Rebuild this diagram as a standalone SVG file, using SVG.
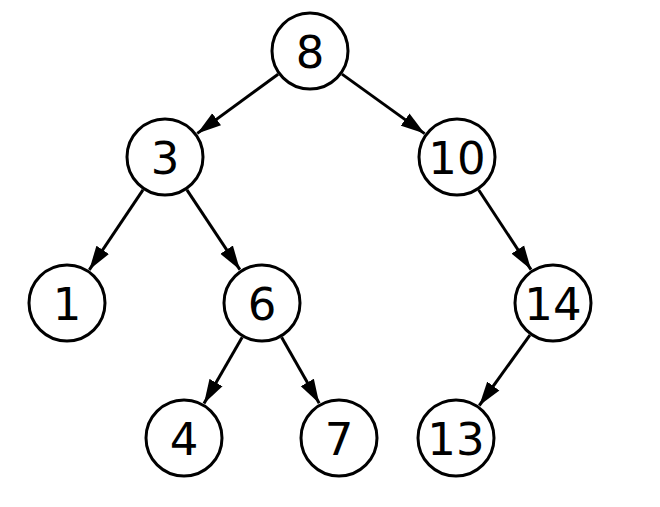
<svg xmlns="http://www.w3.org/2000/svg" width="660" height="507" viewBox="0 0 660 507">
<defs>
<marker id="arr" markerUnits="userSpaceOnUse" markerWidth="24" markerHeight="16" refX="24" refY="8" orient="auto">
<path d="M0,0.5 L24,8 L0,15.5 z" fill="#000"/>
</marker>
<style>
.n circle{fill:#fff;stroke:#000;stroke-width:3}
.n text{font-family:"DejaVu Sans",sans-serif;font-size:45px;text-anchor:middle;fill:#000}
#edges line{stroke:#000;stroke-width:3;marker-end:url(#arr)}
</style>
</defs>
<rect width="660" height="507" fill="#fff"/>
<g id="edges">
<line x1="278.1" y1="74.3" x2="197.3" y2="133.4"/>
<line x1="342.0" y1="74.1" x2="424.6" y2="133.6"/>
<line x1="143.0" y1="189.8" x2="89.3" y2="269.8"/>
<line x1="186.9" y1="189.9" x2="239.9" y2="269.7"/>
<line x1="478.7" y1="190.0" x2="531.0" y2="269.6"/>
<line x1="242.2" y1="337.2" x2="204.0" y2="403.4"/>
<line x1="281.6" y1="337.3" x2="319.2" y2="403.3"/>
<line x1="529.9" y1="335.1" x2="479.3" y2="405.5"/>
</g>
<g id="n8" class="n"><circle cx="310" cy="51" r="38"/><text x="310" y="67.5">8</text></g>
<g id="n3" class="n"><circle cx="165" cy="157" r="38"/><text x="165" y="173.5">3</text></g>
<g id="n10" class="n"><circle cx="457" cy="157" r="38"/><text x="457" y="173.5">10</text></g>
<g id="n1" class="n"><circle cx="67" cy="303" r="38"/><text x="67" y="319.5">1</text></g>
<g id="n6" class="n"><circle cx="262" cy="303" r="38"/><text x="262" y="319.5">6</text></g>
<g id="n14" class="n"><circle cx="553" cy="303" r="38"/><text x="553" y="319.5">14</text></g>
<g id="n4" class="n"><circle cx="184" cy="438" r="38"/><text x="184" y="454.5">4</text></g>
<g id="n7" class="n"><circle cx="339" cy="438" r="38"/><text x="339" y="454.5">7</text></g>
<g id="n13" class="n"><circle cx="456" cy="438" r="38"/><text x="456" y="454.5">13</text></g>
</svg>
